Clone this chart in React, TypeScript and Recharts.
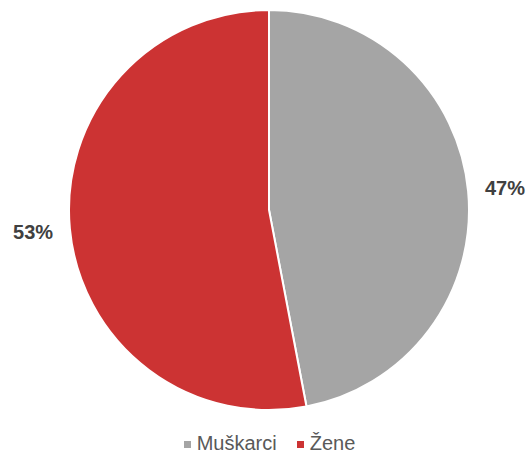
import { PieChart, Pie, Cell, Legend } from "recharts";

const categories = ["Muškarci", "Žene"];
const shares = [47, 53];
const colors = ["#A5A5A5", "#CC3333"];

const data = categories.map((name, i) => ({ name, value: shares[i] }));

const RADIAN = Math.PI / 180;

const renderLabel = (props: any) => {
  const { cx, cy, midAngle, index } = props;
  const r = 237;
  const x = cx + r * Math.cos(-midAngle * RADIAN);
  const y = cy + r * Math.sin(-midAngle * RADIAN);
  return (
    <text
      x={x}
      y={y}
      textAnchor="middle"
      dominantBaseline="central"
      fill="#404040"
      fontSize={20}
      fontWeight="bold"
      fontFamily="Liberation Sans, Arial, sans-serif"
    >
      {`${shares[index]}%`}
    </text>
  );
};

const LegendContent = () => (
  <div
    style={{
      display: "flex",
      justifyContent: "center",
      gap: 20,
      fontFamily: "Liberation Sans, Arial, sans-serif",
      fontSize: 20,
      lineHeight: "22px",
      color: "#595959",
      paddingLeft: 10,
    }}
  >
    {categories.map((c, i) => (
      <div key={c} style={{ display: "flex", alignItems: "center" }}>
        <span
          style={{
            display: "inline-block",
            width: 7,
            height: 7,
            background: colors[i],
            marginRight: 6,
            marginTop: 2,
          }}
        />
        {c}
      </div>
    ))}
  </div>
);

export default function App() {
  return (
    <div style={{ position: "absolute", left: 0, top: 0, background: "#fff" }}>
      <PieChart width={529} height={454} margin={{ top: 0, right: 0, bottom: 0, left: 0 }}>
        <Pie
          data={data}
          dataKey="value"
          nameKey="name"
          cx={269}
          cy={210}
          outerRadius={200}
          startAngle={90}
          endAngle={-270}
          stroke="#ffffff"
          strokeWidth={2}
          label={renderLabel}
          labelLine={false}
          isAnimationActive={false}
        >
          {data.map((d, i) => (
            <Cell key={d.name} fill={colors[i]} />
          ))}
        </Pie>
        <Legend
          verticalAlign="bottom"
          content={<LegendContent />}
          wrapperStyle={{ bottom: 0 }}
        />
      </PieChart>
    </div>
  );
}
